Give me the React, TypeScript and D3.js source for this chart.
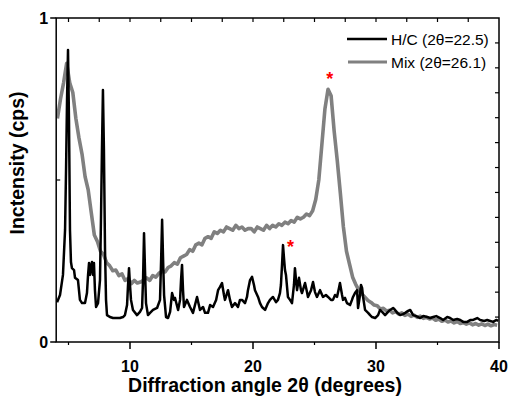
import React from "react";
import * as d3 from "d3";

// ---- Data ----
const hcAngle = [
  4.07, 4.31, 4.55, 4.72, 4.8, 4.88, 4.96, 5.04, 5.12, 5.2, 5.28, 5.45, 5.53, 5.77, 5.93, 6.1, 6.34, 6.5, 6.59, 6.67,
  6.75, 6.83, 6.91, 6.99, 7.07, 7.15, 7.24, 7.4, 7.56, 7.64, 7.72, 7.8, 7.88, 7.97, 8.05, 8.13, 8.37, 8.62, 9.18, 9.43,
  9.59, 9.76, 9.84, 9.92, 10.0, 10.08, 10.24, 10.57, 10.81, 10.98, 11.06, 11.14, 11.22, 11.3, 11.46, 11.63, 11.87, 12.2, 12.44, 12.53,
  12.61, 12.69, 12.77, 12.93, 13.09, 13.26, 13.42, 13.58, 13.66, 13.91, 14.07, 14.15, 14.23, 14.31, 14.39, 14.63, 14.88, 15.12, 15.45, 15.69,
  15.94, 16.1, 16.34, 16.51, 16.75, 17.0, 17.16, 17.32, 17.48, 17.64, 17.72, 17.97, 18.13, 18.29, 18.54, 18.78, 18.94, 19.11, 19.35, 19.51,
  19.59, 19.76, 19.92, 20.08, 20.16, 20.41, 20.57, 20.73, 20.98, 21.22, 21.38, 21.62, 21.87, 22.03, 22.19, 22.27, 22.36, 22.44, 22.52, 22.6,
  22.68, 22.84, 23.01, 23.17, 23.33, 23.41, 23.5, 23.58, 23.74, 23.9, 23.98, 24.23, 24.39, 24.47, 24.72, 24.88, 25.04, 25.2, 25.45, 25.69,
  25.93, 26.1, 26.34, 26.5, 26.67, 26.83, 26.99, 27.07, 27.24, 27.32, 27.48, 27.64, 27.89, 28.05, 28.13, 28.29, 28.46, 28.54, 28.7, 28.78,
  28.87, 28.95, 29.11, 29.36, 29.52, 29.68, 29.93, 30.17, 30.33, 30.5, 30.74, 30.98, 31.15, 31.39, 31.55, 31.72, 31.96, 32.2, 32.37, 32.61,
  32.78, 33.02, 33.27, 33.59, 33.84, 34.16, 34.41, 34.65, 34.9, 35.22, 35.46, 35.79, 36.03, 36.28, 36.6, 36.85, 37.09, 37.42, 37.66, 37.9,
  38.23, 38.47, 38.8, 39.04, 39.28, 39.53, 39.77, 39.93,
];
const hcIntensity = [
  0.123, 0.145, 0.207, 0.346, 0.531, 0.747, 0.901, 0.685, 0.346, 0.247, 0.228, 0.222, 0.198, 0.191, 0.13, 0.12, 0.12, 0.151, 0.207, 0.244,
  0.207, 0.231, 0.247, 0.207, 0.244, 0.16, 0.108, 0.12, 0.191, 0.377, 0.593, 0.778, 0.593, 0.284, 0.13, 0.083, 0.077, 0.074, 0.074, 0.077,
  0.083, 0.114, 0.176, 0.228, 0.176, 0.13, 0.099, 0.083, 0.093, 0.105, 0.191, 0.336, 0.222, 0.12, 0.083, 0.09, 0.099, 0.105, 0.13, 0.253,
  0.377, 0.253, 0.145, 0.077, 0.074, 0.093, 0.151, 0.13, 0.136, 0.099, 0.13, 0.191, 0.238, 0.16, 0.108, 0.13, 0.108, 0.09, 0.139, 0.099,
  0.108, 0.09, 0.09, 0.114, 0.108, 0.13, 0.16, 0.17, 0.182, 0.145, 0.13, 0.16, 0.13, 0.108, 0.12, 0.108, 0.13, 0.13, 0.12, 0.139,
  0.16, 0.191, 0.201, 0.176, 0.16, 0.139, 0.12, 0.108, 0.099, 0.12, 0.13, 0.139, 0.123, 0.13, 0.151, 0.176, 0.238, 0.299, 0.259, 0.222,
  0.207, 0.139, 0.13, 0.12, 0.176, 0.228, 0.191, 0.16, 0.198, 0.16, 0.151, 0.182, 0.154, 0.139, 0.16, 0.185, 0.154, 0.139, 0.16, 0.139,
  0.145, 0.139, 0.13, 0.13, 0.145, 0.139, 0.167, 0.182, 0.145, 0.13, 0.136, 0.12, 0.114, 0.13, 0.139, 0.151, 0.16, 0.105, 0.145, 0.176,
  0.167, 0.139, 0.099, 0.09, 0.083, 0.077, 0.074, 0.083, 0.099, 0.093, 0.083, 0.093, 0.099, 0.105, 0.099, 0.09, 0.083, 0.086, 0.09, 0.096,
  0.099, 0.083, 0.08, 0.074, 0.08, 0.077, 0.074, 0.077, 0.08, 0.074, 0.068, 0.077, 0.074, 0.068, 0.071, 0.068, 0.062, 0.062, 0.068, 0.068,
  0.074, 0.068, 0.065, 0.068, 0.065, 0.062, 0.068, 0.065,
];

const mixAngle = [
  4.1, 4.35, 4.6, 4.85, 5.1, 5.35, 5.6, 5.85, 6.1, 6.35, 6.6, 6.85, 7.1, 7.35, 7.6, 7.85, 8.1, 8.35, 8.6, 8.85,
  9.1, 9.35, 9.6, 9.85, 10.1, 10.35, 10.6, 10.85, 11.1, 11.35, 11.6, 11.85, 12.1, 12.35, 12.6, 12.85, 13.1, 13.35, 13.6, 13.85,
  14.1, 14.35, 14.6, 14.85, 15.1, 15.35, 15.6, 15.85, 16.1, 16.35, 16.6, 16.85, 17.1, 17.35, 17.6, 17.85, 18.1, 18.35, 18.6, 18.85,
  19.1, 19.35, 19.6, 19.85, 20.1, 20.35, 20.6, 20.85, 21.1, 21.35, 21.6, 21.85, 22.1, 22.35, 22.6, 22.85, 23.1, 23.35, 23.6, 23.85,
  24.1, 24.35, 24.6, 24.85, 25.1, 25.35, 25.6, 25.85, 26.1, 26.35, 26.6, 26.85, 27.1, 27.35, 27.6, 27.85, 28.1, 28.35, 28.6, 28.85,
  29.1, 29.35, 29.6, 29.85, 30.1, 30.35, 30.6, 30.85, 31.1, 31.35, 31.6, 31.85, 32.1, 32.35, 32.6, 32.85, 33.1, 33.35, 33.6, 33.85,
  34.1, 34.35, 34.6, 34.85, 35.1, 35.35, 35.6, 35.85, 36.1, 36.35, 36.6, 36.85, 37.1, 37.35, 37.6, 37.85, 38.1, 38.35, 38.6, 38.85,
  39.1, 39.35, 39.6, 39.85,
];
const mixIntensity = [
  0.69, 0.75, 0.8, 0.86, 0.8, 0.77, 0.69, 0.63, 0.58, 0.51, 0.47, 0.4, 0.33, 0.31, 0.28, 0.27, 0.245, 0.235, 0.22, 0.222,
  0.205, 0.21, 0.19, 0.196, 0.18, 0.19, 0.182, 0.185, 0.19, 0.198, 0.19, 0.205, 0.2, 0.212, 0.218, 0.216, 0.23, 0.235, 0.245, 0.24,
  0.26, 0.265, 0.27, 0.285, 0.28, 0.3, 0.305, 0.3, 0.32, 0.325, 0.32, 0.34, 0.335, 0.345, 0.34, 0.355, 0.35, 0.345, 0.36, 0.35,
  0.355, 0.345, 0.35, 0.35, 0.34, 0.355, 0.35, 0.345, 0.36, 0.35, 0.36, 0.355, 0.365, 0.36, 0.37, 0.365, 0.375, 0.37, 0.385, 0.38,
  0.385, 0.395, 0.39, 0.405, 0.44, 0.5, 0.61, 0.72, 0.78, 0.76, 0.65, 0.56, 0.46, 0.355, 0.28, 0.24, 0.2, 0.178, 0.16, 0.148,
  0.138, 0.128, 0.122, 0.114, 0.112, 0.102, 0.104, 0.096, 0.098, 0.09, 0.094, 0.086, 0.09, 0.082, 0.086, 0.079, 0.083, 0.076, 0.08, 0.073,
  0.076, 0.071, 0.074, 0.067, 0.071, 0.064, 0.068, 0.062, 0.065, 0.059, 0.063, 0.057, 0.06, 0.055, 0.059, 0.053, 0.057, 0.052, 0.056, 0.051,
  0.055, 0.05, 0.054, 0.052,
];

const xTickLabels = [10, 20, 30, 40];
const xMinorBottom = [5, 15, 25, 35];
const xTopTicks = [5, 7.5, 10, 12.5, 15, 17.5, 20, 22.5, 25, 27.5, 30, 32.5, 35, 37.5];
const yTickLabels = [0, 1];
const yLeftMinor = [0.5];
const seriesNames = ["H/C (2\u03b8=22.5)", "Mix (2\u03b8=26.1)"];
const starPoints = [
  { angle: 26.25, value: 0.825 },
  { angle: 23.05, value: 0.305 },
];

const W = 510;
const H = 400;
const L = 56.2;
const R = 499;
const T = 18;
const B = 342;
const FONT = "'Liberation Sans', Arial, Helvetica, sans-serif";

export default function App() {
  const x = d3.scaleLinear().domain([4, 40]).range([L, R]);
  const y = d3.scaleLinear().domain([0, 1]).range([B, T]);

  const line = d3
    .line<[number, number]>()
    .x((d) => x(d[0]))
    .y((d) => y(d[1]));

  const hc: [number, number][] = hcAngle.map((a, i) => [a, hcIntensity[i]]);
  const mix: [number, number][] = mixAngle.map((a, i) => [a, mixIntensity[i]]);

  const rightTicks = d3.range(1, 13).map((i) => T + ((B - T) * i) / 13);

  return (
    <svg
      width={W}
      height={H}
      style={{ position: "absolute", left: 0, top: 0, background: "#fff" }}
      fontFamily={FONT}
    >
      <defs>
        <clipPath id="plot">
          <rect x={L} y={T} width={R - L} height={B - T} />
        </clipPath>
      </defs>
      <g clipPath="url(#plot)">
        <path d={line(mix) || ""} fill="none" stroke="#808080" strokeWidth={3.6} strokeLinejoin="round" />
        <path d={line(hc) || ""} fill="none" stroke="#000" strokeWidth={2.5} strokeLinejoin="round" />
      </g>

      {/* frame */}
      <rect x={L} y={T} width={R - L} height={B - T} fill="none" stroke="#000" strokeWidth={1.5} />

      {/* bottom ticks */}
      {xTickLabels.map((t) => (
        <g key={"bx" + t}>
          <line x1={x(t)} x2={x(t)} y1={B} y2={B + 7} stroke="#000" strokeWidth={1.5} />
          <text x={x(t)} y={372} textAnchor="middle" fontSize={16} fontWeight="bold">
            {t}
          </text>
        </g>
      ))}
      {xMinorBottom.map((t) => (
        <line key={"bm" + t} x1={x(t)} x2={x(t)} y1={B} y2={B + 3} stroke="#000" strokeWidth={1.2} />
      ))}
      {xTopTicks.map((t) => (
        <line key={"tt" + t} x1={x(t)} x2={x(t)} y1={T} y2={T + 4} stroke="#000" strokeWidth={1.2} />
      ))}

      {/* left ticks */}
      {yTickLabels.map((t) => (
        <g key={"ly" + t}>
          <line x1={L - 6} x2={L} y1={y(t)} y2={y(t)} stroke="#000" strokeWidth={1.5} />
          <text x={L - 8} y={y(t) + 6} textAnchor="end" fontSize={16} fontWeight="bold">
            {t}
          </text>
        </g>
      ))}
      {yLeftMinor.map((t) => (
        <line key={"lm" + t} x1={L} x2={L + 4} y1={y(t)} y2={y(t)} stroke="#000" strokeWidth={1.2} />
      ))}
      {rightTicks.map((py, i) => (
        <line key={"rt" + i} x1={R - 4} x2={R} y1={py} y2={py} stroke="#000" strokeWidth={1.2} />
      ))}

      {/* axis titles */}
      <text x={265} y={392} textAnchor="middle" fontSize={19.5} fontWeight="bold">
        Diffraction angle 2{"\u03b8"} (degrees)
      </text>
      <text
        transform={`translate(24,163) rotate(-90)`}
        textAnchor="middle"
        fontSize={19.5}
        fontWeight="bold"
      >
        Inctensity (cps)
      </text>

      {/* legend */}
      <line x1={347} x2={387} y1={39} y2={39} stroke="#000" strokeWidth={2.5} />
      <text x={391} y={44.5} fontSize={15.5}>
        {seriesNames[0]}
      </text>
      <line x1={348} x2={387} y1={62} y2={62} stroke="#808080" strokeWidth={3} />
      <text x={391} y={67.5} fontSize={15.5}>
        {seriesNames[1]}
      </text>

      {/* stars */}
      {starPoints.map((s, i) => (
        <text
          key={"st" + i}
          x={x(s.angle)}
          y={y(s.value) + 10}
          textAnchor="middle"
          fontSize={18}
          fontWeight="bold"
          fill="#ff0000"
        >
          *
        </text>
      ))}
    </svg>
  );
}
